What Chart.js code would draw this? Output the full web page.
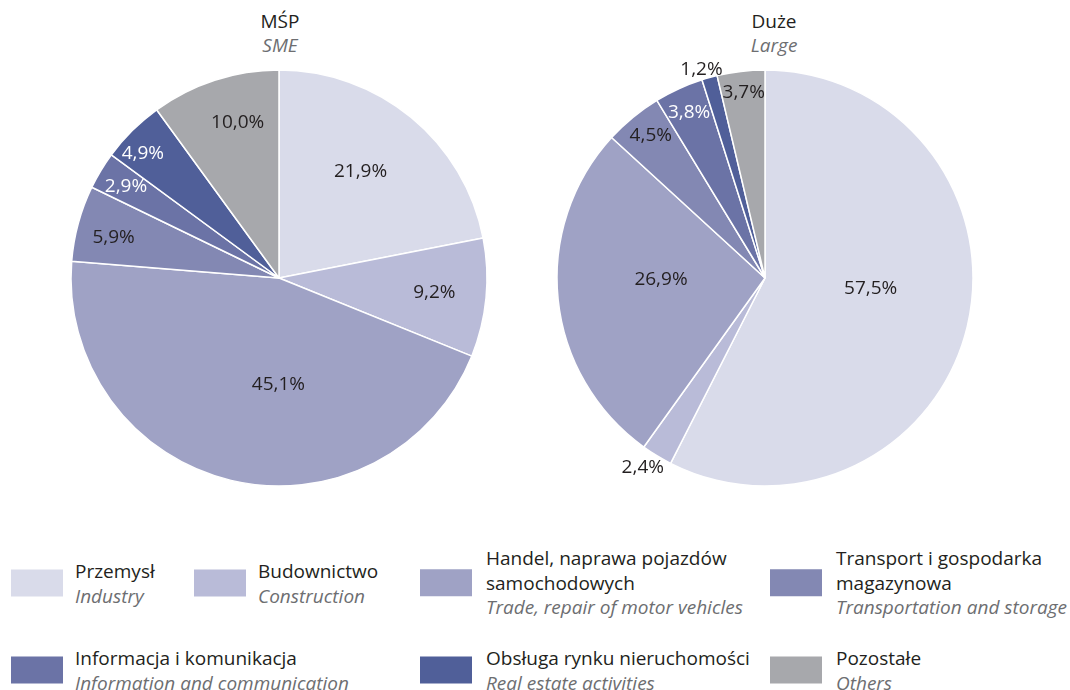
<!DOCTYPE html>
<html lang="pl">
<head>
<meta charset="utf-8">
<title>MŚP / Duże</title>
<script src="https://cdn.jsdelivr.net/npm/chart.js@4.4.1/dist/chart.umd.min.js"></script>
<style>
  html, body { margin: 0; padding: 0; background: #fff; }
  body { width: 1070px; height: 690px; position: relative; overflow: hidden;
         font-family: "Open Sans", sans-serif; color: #231f20; }
  .title { position: absolute; width: 200px; text-align: center; font-size: 19px; line-height: 24px; }
  .title i { color: #6d6e71; }
  .pie { position: absolute; top: 49px; width: 458px; height: 458px; }
  .item { position: absolute; display: flex; align-items: center; }
  .item .sw { width: 52px; height: 27px; flex: none; }
  .item .txt { font-size: 19px; line-height: 24.5px; white-space: nowrap; }
  .item .txt i { color: #6d6e71; }
</style>
</head>
<body>
<div class="title" style="left:180px; top:9px;">MŚP<br><i>SME</i></div>
<div class="title" style="left:674px; top:9px;">Duże<br><i>Large</i></div>

<div class="pie" style="left:50px;"><canvas id="smeChart"></canvas></div>
<div class="pie" style="left:536px;"><canvas id="largeChart"></canvas></div>

<div id="legend"></div>

<script>
// --- Data ---
const categories = ['Przemysł', 'Budownictwo', 'Handel, naprawa pojazdów<br>samochodowych',
    'Transport i gospodarka<br>magazynowa', 'Informacja i komunikacja',
    'Obsługa rynku nieruchomości', 'Pozostałe'];
const categoriesEn = ['Industry', 'Construction', 'Trade, repair of motor vehicles',
    'Transportation and storage', 'Information and communication',
    'Real estate activities', 'Others'];
const smeValues = [21.9, 9.2, 45.1, 5.9, 2.9, 4.9, 10.0];
const largeValues = [57.5, 2.4, 26.9, 4.5, 3.8, 1.2, 3.7];

// --- Styles ---
const colors = ['#d9dbea', '#b9bbd8', '#9fa2c5', '#8388b3', '#6b73a6', '#505f99', '#a7a8ac'];
const textColors = ['#231f20', '#231f20', '#231f20', '#231f20', '#ffffff', '#ffffff', '#231f20'];
const darkText = '#231f20';

// label placement inside each slice: fraction along the arc, fraction of radius
const smeAlong = [0.47, 0.49, 0.42, 0.45, 0.51, 0.36, 0.59];
const smeRadius = [0.65, 0.75, 0.51, 0.82, 0.86, 0.89, 0.78];
const largeAlong = [0.46, 0.69, 0.56, 0.55, 0.5, 0.17, 0.51];
const largeRadius = [0.51, 1.08, 0.5, 0.88, 0.88, 1.05, 0.9];

const fmt = v => v.toFixed(1).replace('.', ',') + '%';

const pctLabels = {
    id: 'pctLabels',
    afterDatasetsDraw(chart, args, opts) {
        const ctx = chart.ctx;
        const meta = chart.getDatasetMeta(0);
        const values = chart.data.datasets[0].data;
        ctx.save();
        ctx.font = '19px "Open Sans"';
        ctx.textAlign = 'center';
        ctx.textBaseline = 'middle';
        meta.data.forEach((arc, i) => {
            const p = arc.getProps(['x', 'y', 'startAngle', 'endAngle', 'outerRadius'], true);
            const a = p.startAngle + (p.endAngle - p.startAngle) * opts.along[i];
            const r = p.outerRadius * opts.radius[i];
            ctx.fillStyle = opts.radius[i] > 1 ? darkText : textColors[i];
            ctx.fillText(fmt(values[i]), p.x + Math.cos(a) * r, p.y + Math.sin(a) * r + 1);
        });
        ctx.restore();
    }
};

function makePie(id, values, along, radius) {
    return new Chart(document.getElementById(id), {
        type: 'pie',
        data: {
            labels: categoriesEn,
            datasets: [{
                data: values,
                backgroundColor: colors,
                borderColor: '#ffffff',
                borderWidth: 1.5
            }]
        },
        options: {
            responsive: true,
            maintainAspectRatio: false,
            animation: false,
            radius: 208,
            layout: { padding: 0 },
            plugins: {
                legend: { display: false },
                tooltip: { enabled: false },
                pctLabels: { along, radius }
            }
        },
        plugins: [pctLabels]
    });
}

makePie('smeChart', smeValues, smeAlong, smeRadius);
makePie('largeChart', largeValues, largeAlong, largeRadius);

// --- Legend ---
const legendPos = [[11, 583], [194, 583], [420, 583], [770, 583], [11, 670], [420, 670], [770, 670]];
const legend = document.getElementById('legend');
categories.forEach((c, i) => {
    const el = document.createElement('div');
    el.className = 'item';
    el.style.left = legendPos[i][0] + 'px';
    el.style.top = legendPos[i][1] + 'px';
    el.style.transform = 'translateY(-50%)';
    el.innerHTML = `<div class="sw" style="background:${colors[i]}"></div>` +
        `<div class="txt" style="margin-left:${i === 0 || i === 1 || i === 4 ? 12 : 14}px">${c}<br><i>${categoriesEn[i]}</i></div>`;
    legend.appendChild(el);
});
</script>
</body>
</html>
